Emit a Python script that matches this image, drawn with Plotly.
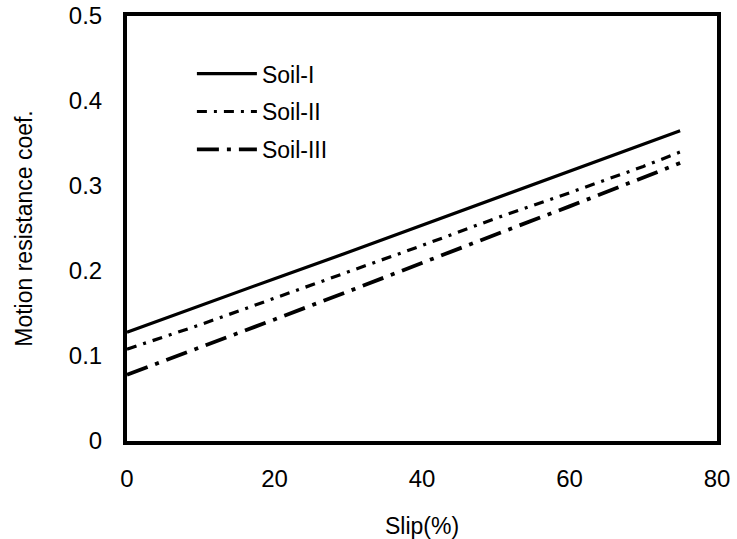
import plotly.graph_objects as go

slip = [0, 10, 20, 30, 40, 50, 60, 70, 75]
soil_1 = [0.128, 0.160, 0.191, 0.222, 0.254, 0.286, 0.318, 0.349, 0.365]
soil_2 = [0.108, 0.137, 0.168, 0.199, 0.230, 0.262, 0.292, 0.323, 0.340]
soil_3 = [0.078, 0.110, 0.143, 0.176, 0.210, 0.243, 0.276, 0.310, 0.327]

x_ticks = [0, 20, 40, 60, 80]
y_ticks = [0, 0.1, 0.2, 0.3, 0.4, 0.5]
y_tick_text = ["0", "0.1", "0.2", "0.3", "0.4", "0.5"]

FONT = "Liberation Sans, Arial, sans-serif"

fig = go.Figure()
fig.add_trace(go.Scatter(x=slip, y=soil_1, mode="lines", name="Soil-I",
                         legendgroup="a",
                         line=dict(color="black", width=3.2, dash="solid")))
fig.add_trace(go.Scatter(x=slip, y=soil_2, mode="lines", name="Soil-II",
                         legendgroup="b",
                         line=dict(color="black", width=3.2, dash="10px,7px,3px,7px")))
fig.add_trace(go.Scatter(x=slip, y=soil_3, mode="lines", name="Soil-III",
                         legendgroup="c",
                         line=dict(color="black", width=3.8, dash="22px,8px,4px,8px")))

fig.update_layout(
    width=737, height=539,
    margin=dict(l=127, r=20, t=16, b=98, autoexpand=False),
    paper_bgcolor="white", plot_bgcolor="white",
    font=dict(family=FONT, size=23, color="black"),
    showlegend=True,
    legend=dict(x=0.11, y=0.915, xanchor="left", yanchor="top",
                bgcolor="rgba(0,0,0,0)", font=dict(size=23, family=FONT),
                tracegroupgap=5, itemwidth=60),
    xaxis=dict(range=[0, 80], tickvals=x_ticks, showgrid=False, zeroline=False,
               showline=True, linecolor="black", linewidth=4, mirror=True,
               ticks="", ticklabelstandoff=13, automargin=False,
               tickfont=dict(size=24, family=FONT),
               title=dict(text="Slip(%)", font=dict(size=23, family=FONT), standoff=28)),
    yaxis=dict(range=[0, 0.5], tickvals=y_ticks, ticktext=y_tick_text,
               showgrid=False, zeroline=False,
               showline=True, linecolor="black", linewidth=4, mirror=True,
               ticks="", ticklabelstandoff=16, automargin=False,
               tickfont=dict(size=24, family=FONT),
               title=dict(text="Motion resistance coef.", font=dict(size=23, family=FONT),
                          standoff=31)),
)

fig.write_html("out.html",
               config={"displayModeBar": False},
               post_script="document.body.style.margin='0px';document.body.style.overflow='hidden';")
